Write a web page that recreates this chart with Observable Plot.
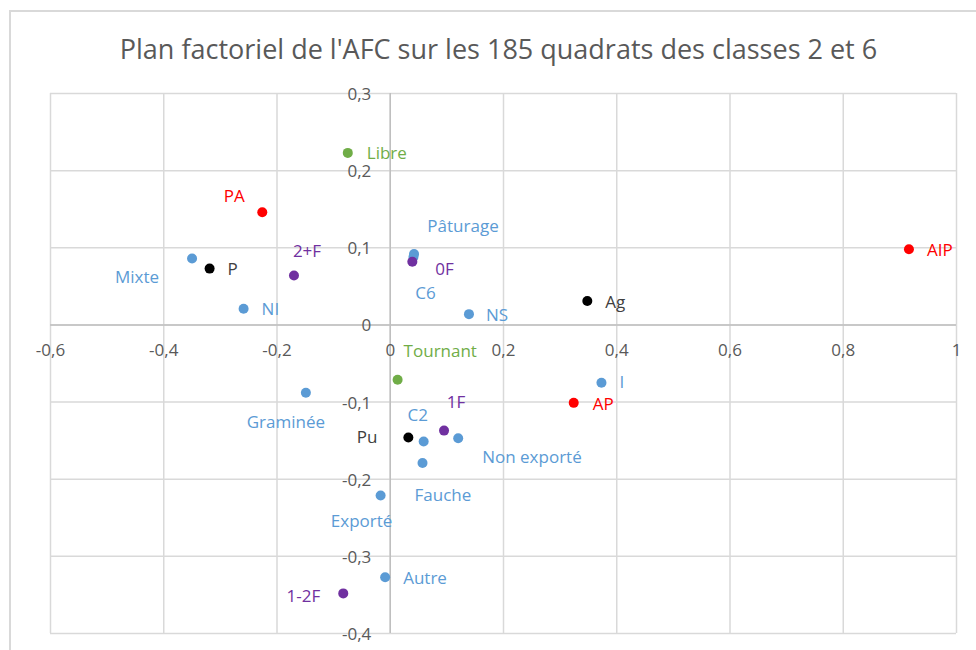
<!DOCTYPE html>
<html>
<head>
<meta charset="utf-8">
<script src="https://cdn.jsdelivr.net/npm/d3@7"></script>
<script src="https://cdn.jsdelivr.net/npm/@observablehq/plot@0.6"></script>
<style>
  html, body { margin: 0; padding: 0; background: #fff; overflow: hidden; }
  #wrap { position: relative; width: 976px; height: 650px; overflow: hidden; }
  #border { position: absolute; left: 9px; top: 10px; width: 1200px; height: 1200px; border: 2px solid #d9d9d9; box-sizing: border-box; }
  #chart { position: absolute; left: 0; top: 0; }
</style>
</head>
<body>
<div id="wrap"><div id="border"></div><div id="chart"></div></div>
<script>
// ---- data ----
const title = "Plan factoriel de l'AFC sur les 185 quadrats des classes 2 et 6";
const names = ["C6", "Libre", "PA", "Mixte", "P", "2+F", "NI", "Pâturage", "0F", "NS", "Ag", "AIP",
               "Tournant", "Graminée", "C2", "Pu", "1F", "Non exporté", "Fauche", "Exporté", "Autre", "1-2F", "I", "AP"];
const xs = [0.041, -0.075, -0.226, -0.350, -0.319, -0.170, -0.259, 0.042, 0.039, 0.139, 0.348, 0.916,
            0.013, -0.149, 0.059, 0.032, 0.095, 0.120, 0.057, -0.017, -0.009, -0.083, 0.373, 0.324];
const ys = [0.088, 0.223, 0.146, 0.086, 0.073, 0.064, 0.021, 0.092, 0.082, 0.014, 0.031, 0.098,
            -0.071, -0.088, -0.151, -0.146, -0.137, -0.147, -0.179, -0.221, -0.327, -0.348, -0.075, -0.101];
const groups = ["bleu", "vert", "rouge", "bleu", "noir", "violet", "bleu", "bleu", "violet", "bleu", "noir", "rouge",
                "vert", "bleu", "bleu", "noir", "violet", "bleu", "bleu", "bleu", "bleu", "violet", "bleu", "rouge"];
const xTicks = [-0.6, -0.4, -0.2, 0, 0.2, 0.4, 0.6, 0.8, 1];
const yTicks = [-0.4, -0.3, -0.2, -0.1, 0, 0.1, 0.2, 0.3];

// ---- styles ----
const dotColor = {bleu: "#5B9BD5", noir: "#000000", rouge: "#FF0000", vert: "#70AD47", violet: "#7030A0"};
const textColor = {bleu: "#5B9BD5", noir: "#404040", rouge: "#FF0000", vert: "#70AD47", violet: "#7030A0"};
// label placement: [textAnchor, dx, dy]
const place = {
  "C6": ["middle", 12, 37], "Libre": ["start", 19, 1], "PA": ["middle", -28, -16], "Mixte": ["end", -33, 19],
  "P": ["start", 18, 1], "2+F": ["middle", 13, -24], "NI": ["start", 18, 1], "Pâturage": ["middle", 49, -27],
  "0F": ["start", 23, 8], "NS": ["start", 17, 1], "Ag": ["start", 18, 2], "AIP": ["start", 18, 1],
  "Tournant": ["start", 6, -28], "Graminée": ["middle", -20, 30], "C2": ["middle", -6, -26], "Pu": ["end", -31, 0],
  "1F": ["middle", 12, -28], "Non exporté": ["start", 24, 19], "Fauche": ["start", -8, 33], "Exporté": ["middle", -19, 26],
  "Autre": ["start", 18, 1], "1-2F": ["end", -23, 3], "I": ["start", 18, 0], "AP": ["start", 19, 2]
};

const pts = names.map((n, i) => ({name: n, x: xs[i], y: ys[i], g: groups[i]}));
const fmt = v => String(v).replace(".", ",");
const font = "'Open Sans', sans-serif";

const labelMarks = pts.map(d => Plot.text([d], {
  x: "x", y: "y", text: "name", textAnchor: place[d.name][0],
  dx: place[d.name][1], dy: place[d.name][2],
  fill: textColor[d.g], fontSize: 17, fontFamily: font
}));

const chart = Plot.plot({
  width: 976, height: 650,
  marginLeft: 50, marginRight: 20, marginTop: 93, marginBottom: 17,
  x: {domain: [-0.6, 1], axis: null},
  y: {domain: [-0.4, 0.3], axis: null},
  style: {fontFamily: font, background: "transparent"},
  marks: [
    Plot.ruleX(xTicks, {stroke: "#d9d9d9", strokeWidth: 1.5}),
    Plot.ruleY(yTicks, {stroke: "#d9d9d9", strokeWidth: 1.5}),
    Plot.ruleX([0], {stroke: "#bfbfbf", strokeWidth: 1.5}),
    Plot.ruleY([0], {stroke: "#bfbfbf", strokeWidth: 1.5}),
    Plot.text(xTicks, {x: d => d, y: 0, text: fmt, dy: 26, fill: "#595959", fontSize: 17, fontFamily: font}),
    Plot.text(yTicks, {x: 0, y: d => d, text: fmt, dx: -19, dy: 1, textAnchor: "end", fill: "#595959", fontSize: 17, fontFamily: font}),
    Plot.dot(pts, {x: "x", y: "y", r: 5, fill: d => dotColor[d.g], stroke: "none"}),
    ...labelMarks,
    Plot.text([title], {frameAnchor: "top", lineAnchor: "middle", text: d => d, dx: -5, dy: -43, fill: "#595959", fontSize: 27, fontFamily: font})
  ]
});
document.getElementById("chart").appendChild(chart);
</script>
</body>
</html>
